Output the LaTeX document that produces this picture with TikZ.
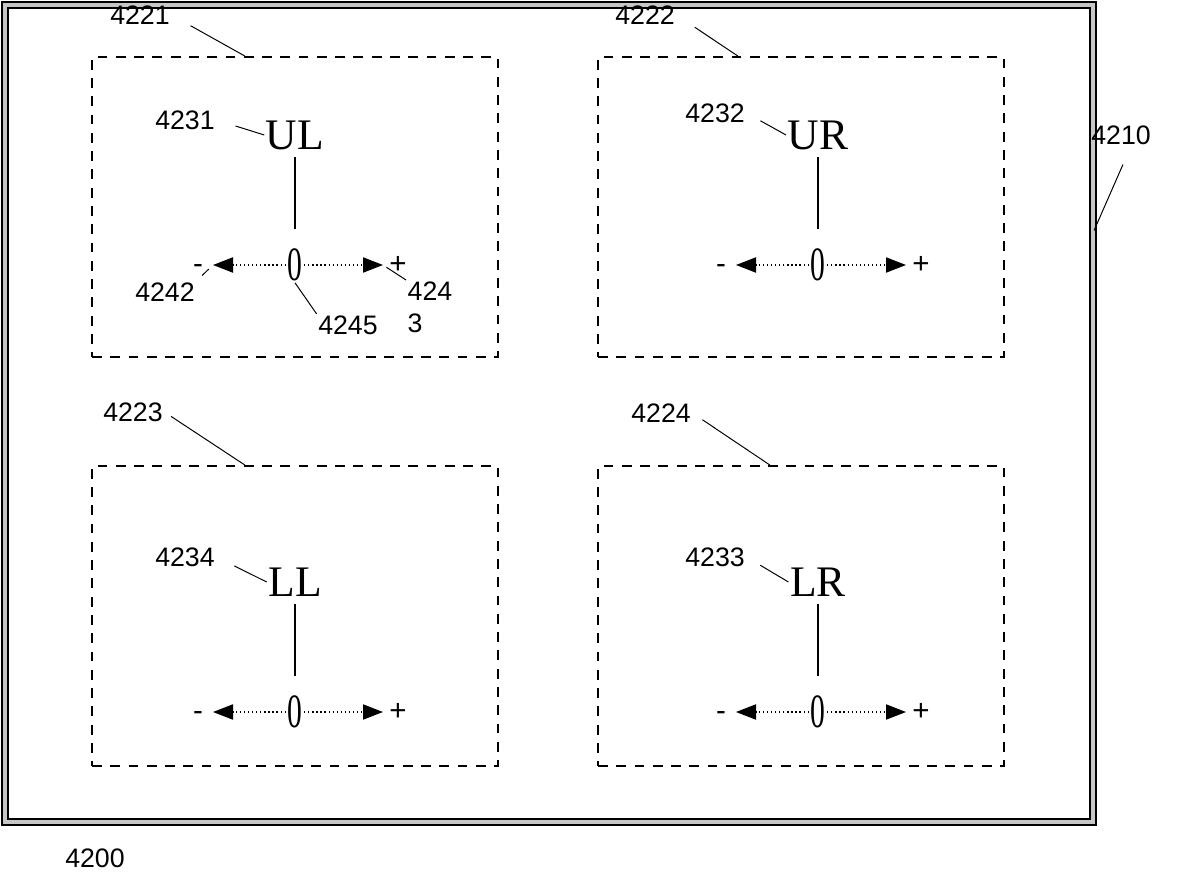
\documentclass[tikz,border=0pt]{standalone}
\usepackage{fontspec}
\setmainfont{Liberation Serif}
\newfontfamily\numfont{Liberation Sans}
\usetikzlibrary{arrows.meta}

\begin{document}
\begin{tikzpicture}[x=0.025cm,y=-0.025cm,
  refnum/.style={font=\numfont\fontsize{19}{23}\selectfont, inner sep=1pt},
  region/.style={draw, dash pattern=on 7pt off 6pt, line width=1.2pt, minimum width=10.15cm, minimum height=7.5cm},
  corner/.style={font=\fontsize{31}{33}\selectfont, inner sep=1pt},
  origin/.style={font=\fontsize{34}{36}\selectfont, inner sep=1pt},
  sign/.style={font=\numfont\fontsize{21}{23}\selectfont, inner sep=1pt},
  leader/.style={line width=0.7pt},
  stem/.style={line width=0.9pt, shorten <=0.15cm, shorten >=0.45cm},
  axis/.style={dotted, line width=0.9pt, -{Triangle[length=0.5cm,width=0.38cm]}}]
\useasboundingbox (0,0) rectangle (1188,879);

% outer frame
\node[draw, line width=1.3pt, double=gray!45, double distance=3pt, minimum width=27.2cm, minimum height=20.425cm] (frame) at (549,413.5) {};

% the four regions
\foreach \p/\bx/\by/\lbl/\zx/\zy in {ul/295/207/UL/295/265, ur/801/207/UR/818/265, ll/295/616/LL/295/712, lr/801/616/LR/818/712}{
  \node[region] (\p) at (\bx,\by) {};
  \node[corner] (\p-txt) at (\zx,\zy-130) {\lbl};
  \node[origin] (\p-0) at (\zx,\zy) {\scalebox{0.62}[1]{0}};
  \coordinate (\p-l) at (\zx-82,\zy);
  \coordinate (\p-r) at (\zx+88,\zy);
  \node[sign, yshift=-0.09cm] (\p-minus) at (\zx-97,\zy) {-};
  \node[sign] (\p-plus) at (\zx+103,\zy) {+};
  \draw[stem] (\p-txt.south) -- (\p-0.north);
  \draw[axis] (\p-0.west) -- (\p-l);
  \draw[axis] (\p-0.east) -- (\p-r);
}

% reference numerals
\node[refnum] (n4221) at (140,15) {4221};
\node[refnum] (n4222) at (645,15) {4222};
\node[refnum] (n4223) at (133,412) {4223};
\node[refnum] (n4224) at (661,413) {4224};
\node[refnum] (n4231) at (185,120) {4231};
\node[refnum] (n4232) at (715,113) {4232};
\node[refnum] (n4234) at (185,557) {4234};
\node[refnum] (n4233) at (715,557) {4233};
\node[refnum] (n4210) at (1121,135) {4210};
\node[refnum] (n4242) at (165,292) {4242};
\node[refnum, align=left, anchor=north west] (n4243) at (406,280) {424\\3};
\node[refnum] (n4245) at (348,325) {4245};
\node[refnum] (n4200) at (95,858) {4200};

\draw[leader, shorten <=0.55cm] (n4221.east) -- ([xshift=-1.25cm]ul.north);
\draw[leader, shorten <=0.55cm] (n4222.east) -- ([xshift=-1.575cm]ur.north);
\draw[leader, shorten <=0.2cm] (n4223.east) -- ([xshift=-1.25cm]ll.north);
\draw[leader, shorten <=0.3cm] (n4224.east) -- ([xshift=-0.775cm]lr.north);
\draw[leader, shorten <=0.5cm] (n4231.east) -- (ul-txt.west);
\draw[leader, shorten <=0.4cm] (n4232.east) -- (ur-txt.west);
\draw[leader, shorten <=0.5cm] (n4234.east) -- (ll-txt.west);
\draw[leader, shorten <=0.4cm] (n4233.east) -- (lr-txt.west);
\draw[leader, shorten <=0.5cm] ([xshift=0.25cm]n4210.south) -- ([yshift=4.575cm]frame.east);
\draw[leader, shorten <=0.2cm, shorten >=0.15cm] (n4242.north east) -- (ul-l);
\draw[leader, shorten <=0.1cm] (ul-r) -- (n4243.north west);
\draw[leader] (ul-0.south) -- (n4245.north west);
\end{tikzpicture}
\end{document}
